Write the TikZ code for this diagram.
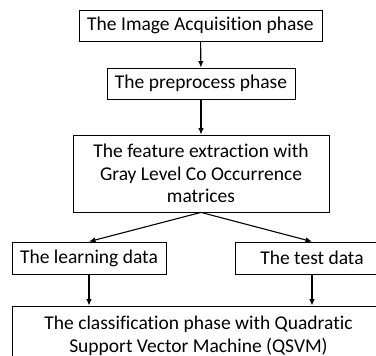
\documentclass[tikz,border=0pt]{standalone}
\usepackage{fontspec}
\setmainfont{Carlito}[Ligatures=NoCommon]
\usetikzlibrary{arrows.meta}
\tikzstyle{node_box} = [draw, line width=0.8pt, inner sep=0pt, align=center, font=\fontsize{19.5}{22.5}\selectfont]
\tikzstyle{edge_flow} = [line width=1.1pt, -{Latex[length=6.5pt,width=5.5pt]}]

\begin{document}
\begin{tikzpicture}[x=1pt,y=-1pt]
			\clip (0,0) rectangle (376,356);
			\node (A) at (200.5,25.5) [node_box, minimum width=243pt, minimum height=31pt] {The Image Acquisition phase};
			\node (B) at (201,83.5) [node_box, minimum width=188pt, minimum height=31pt] {The preprocess phase};
			\node (C) at (201,173.5) [node_box, minimum width=256pt, minimum height=77pt] {The feature extraction with\\Gray Level Co Occurrence\\matrices};
			\node (L) at (89,258) [node_box, minimum width=154pt, minimum height=32pt] {The learning data};
			\node (T) at (312,258) [node_box, minimum width=154pt, minimum height=32pt] {The test data};
			\node (Q) at (198.5,336) [node_box, minimum width=373pt, minimum height=60pt] {The classification phase with Quadratic\\Support Vector Machine (QSVM)};

			\draw[edge_flow] (A)--(B);
			\draw[edge_flow] (B)--(C);
			\draw[edge_flow] (C.south)--(L.north);
			\draw[edge_flow] (C.south)--(T.north);
			\draw[edge_flow] (L.south)--(L.south |- Q.north);
			\draw[edge_flow] (T.south)--(T.south |- Q.north);
		\end{tikzpicture}
\end{document}
